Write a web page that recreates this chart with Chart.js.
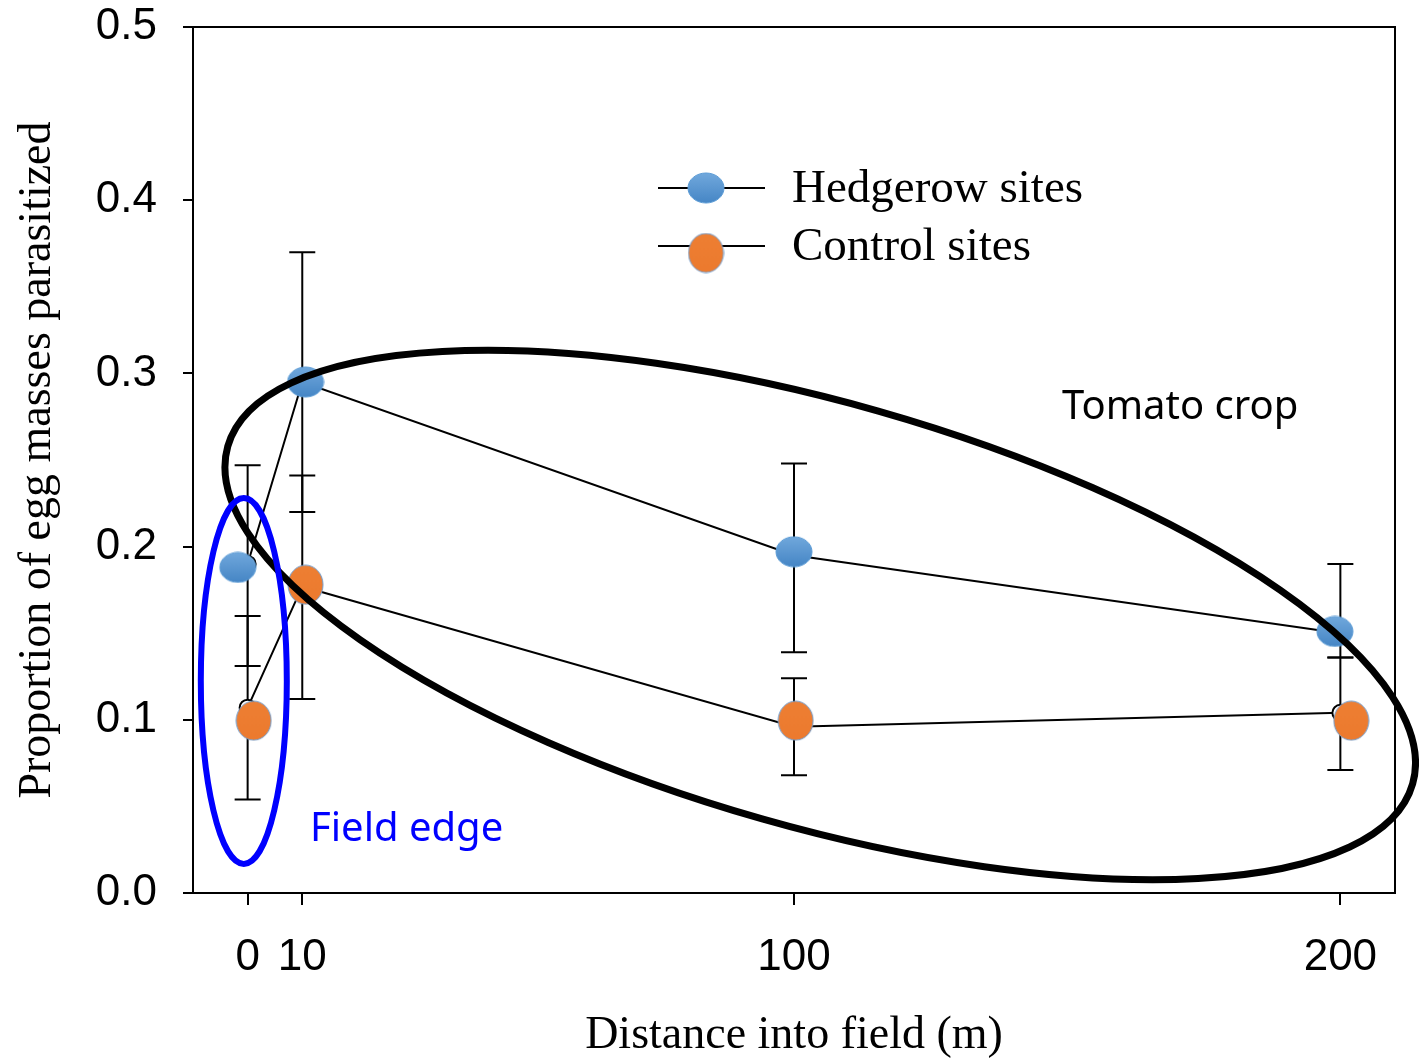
<!DOCTYPE html>
<html>
<head>
<meta charset="utf-8">
<script src="https://cdn.jsdelivr.net/npm/chart.js@4.4.0/dist/chart.umd.min.js"></script>
<style>
  html, body { margin: 0; padding: 0; background: #fff; }
</style>
</head>
<body>
<canvas id="myChart" width="1419" height="1064"></canvas>
<script>
// distances sampled (m)
const distances = [0, 10, 100, 200];
const xTickValues = [0, 10, 100, 200];

// means joined by the lines
const hedgeMean = [0.19, 0.295, 0.195, 0.15];
const controlMean = [0.107, 0.177, 0.096, 0.104];

// error bar ends
const hedgeHigh = [0.247, 0.37, 0.248, 0.19];
const hedgeLow = [0.131, 0.22, 0.139, 0.136];
const controlHigh = [0.16, 0.241, 0.124, 0.136];
const controlLow = [0.054, 0.112, 0.068, 0.071];

// coloured symbols (pasted slightly off the points in the original)
const hedgeSymX = [-1.8, 10.6, 100, 199];
const hedgeSymY = [0.188, 0.295, 0.197, 0.151];
const controlSymX = [1.1, 10.6, 100.3, 202];
const controlSymY = [0.0995, 0.178, 0.0995, 0.0995];

const serif = "'Liberation Serif', 'Times New Roman', serif";
const sans = "'Liberation Sans', Arial, sans-serif";
const calib = "'Noto Sans', 'Open Sans', sans-serif";

function makeMarker(w, h, top, bottom, edge) {
  const c = document.createElement('canvas');
  c.width = w + 2;
  c.height = h + 2;
  const g = c.getContext('2d');
  const grad = g.createLinearGradient(0, 0, 0, h);
  grad.addColorStop(0, top);
  grad.addColorStop(1, bottom);
  g.beginPath();
  g.ellipse(c.width / 2, c.height / 2, w / 2, h / 2, 0, 0, Math.PI * 2);
  g.fillStyle = grad;
  g.fill();
  g.lineWidth = 1;
  g.strokeStyle = edge;
  g.stroke();
  return c;
}

const blueDot = makeMarker(36, 30, '#72a9dd', '#4787c6', '#5b9bd5');
const orangeDot = makeMarker(35, 39, '#ee7f33', '#ec7a2e', '#6e9fd3');

function pts(xs, ys) {
  return xs.map((x, i) => ({x: x, y: ys[i]}));
}

const extras = {
  id: 'extras',
  beforeDatasetsDraw(chart) {
    const ctx = chart.ctx;
    const xs = chart.scales.x, ys = chart.scales.y;
    ctx.save();
    ctx.strokeStyle = '#000';
    ctx.lineWidth = 2;
    const bars = [[hedgeHigh, hedgeLow], [controlHigh, controlLow]];
    bars.forEach(([hi, lo]) => {
      distances.forEach((d, i) => {
        const px = xs.getPixelForValue(d);
        const y1 = ys.getPixelForValue(hi[i]);
        const y2 = ys.getPixelForValue(lo[i]);
        ctx.beginPath();
        ctx.moveTo(px, y1); ctx.lineTo(px, y2);
        ctx.moveTo(px - 13, y1); ctx.lineTo(px + 13, y1);
        ctx.moveTo(px - 13, y2); ctx.lineTo(px + 13, y2);
        ctx.stroke();
      });
    });
    ctx.restore();
  },
  afterDatasetsDraw(chart) {
    const ctx = chart.ctx;
    const xs = chart.scales.x, ys = chart.scales.y;
    ctx.save();
    // tomato crop ellipse
    ctx.beginPath();
    ctx.ellipse(xs.getPixelForValue(104.8), ys.getPixelForValue(0.1605), 616, 212, 15.9 * Math.PI / 180, 0, Math.PI * 2);
    ctx.lineWidth = 7;
    ctx.strokeStyle = '#000';
    ctx.stroke();
    // field edge ellipse
    ctx.beginPath();
    ctx.ellipse(xs.getPixelForValue(-0.7), ys.getPixelForValue(0.1224), 43, 183, 0, 0, Math.PI * 2);
    ctx.lineWidth = 6;
    ctx.strokeStyle = '#0000ff';
    ctx.stroke();

    ctx.font = '40px ' + calib;
    ctx.textBaseline = 'middle';
    ctx.textAlign = 'left';
    ctx.fillStyle = '#000';
    ctx.fillText('Tomato crop', 1062, 408);
    ctx.fillStyle = '#0000ff';
    ctx.fillText('Field edge', 310, 830);
    ctx.restore();
  },
  afterDraw(chart) {
    const ctx = chart.ctx;
    const a = chart.chartArea;
    ctx.save();
    ctx.strokeStyle = '#000';
    ctx.lineWidth = 2;
    ctx.beginPath();
    ctx.moveTo(a.left, a.top); ctx.lineTo(a.right, a.top); ctx.lineTo(a.right, a.bottom);
    ctx.stroke();

    // legend
    const rows = [['Hedgerow sites', blueDot, 188, 188], ['Control sites', orangeDot, 246, 253]];
    ctx.font = '47px ' + serif;
    ctx.textBaseline = 'middle';
    ctx.fillStyle = '#000';
    rows.forEach(([label, img, ly, my]) => {
      ctx.beginPath();
      ctx.moveTo(658, ly); ctx.lineTo(765, ly);
      ctx.stroke();
      ctx.drawImage(img, 706 - img.width / 2, my - img.height / 2);
      ctx.fillText(label, 792, ly + 2);
    });
    ctx.restore();
  }
};

const ctx = document.getElementById('myChart');
new Chart(ctx, {
  type: 'line',
  data: {
    datasets: [
      {
        label: 'Hedgerow sites',
        data: pts(hedgeSymX, hedgeSymY),
        showLine: false,
        pointStyle: blueDot,
        pointRadius: 18,
        order: 0
      },
      {
        label: 'Control sites',
        data: pts(controlSymX, controlSymY),
        showLine: false,
        pointStyle: orangeDot,
        pointRadius: 18,
        order: 0
      },
      {
        label: 'Hedgerow line',
        data: pts(distances, hedgeMean),
        borderColor: '#000',
        borderWidth: 2,
        pointRadius: 8,
        pointBackgroundColor: '#fff',
        pointBorderColor: '#000',
        pointBorderWidth: 2,
        order: 1
      },
      {
        label: 'Control line',
        data: pts(distances, controlMean),
        borderColor: '#000',
        borderWidth: 2,
        pointRadius: 8,
        pointBackgroundColor: '#fff',
        pointBorderColor: '#000',
        pointBorderWidth: 2,
        order: 1
      }
    ]
  },
  options: {
    responsive: false,
    animation: false,
    layout: { padding: { top: 27, right: 24, left: 0, bottom: 0 } },
    plugins: { legend: { display: false }, tooltip: { enabled: false } },
    scales: {
      x: {
        type: 'linear',
        min: -10,
        max: 210,
        afterBuildTicks: (s) => { s.ticks = xTickValues.map(v => ({value: v})); },
        afterFit: (s) => { s.height = 171; s.paddingLeft = 0; s.paddingRight = 0; },
        ticks: { font: { family: sans, size: 44 }, color: '#000', padding: 26, maxRotation: 0, autoSkip: false },
        grid: { drawOnChartArea: false, color: '#000', lineWidth: 2, tickLength: 12 },
        border: { color: '#000', width: 2 },
        title: { display: true, text: 'Distance into field (m)', font: { family: serif, size: 46 }, color: '#000', padding: 0 }
      },
      y: {
        min: 0,
        max: 0.5,
        afterFit: (s) => { s.width = 193; s.paddingTop = 0; s.paddingBottom = 0; },
        ticks: { stepSize: 0.1, callback: v => v.toFixed(1), font: { family: sans, size: 44 }, color: '#000', padding: 26 },
        grid: { drawOnChartArea: false, color: '#000', lineWidth: 2, tickLength: 10 },
        border: { color: '#000', width: 2 },
        title: { display: true, text: 'Proportion of egg masses parasitized', font: { family: serif, size: 46 }, color: '#000', padding: { top: 10 } }
      }
    }
  },
  plugins: [extras]
});
</script>
</body>
</html>
